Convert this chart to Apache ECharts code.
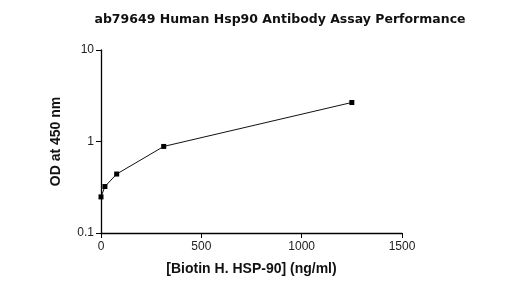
<!DOCTYPE html>
<html><head><meta charset="utf-8">
<script src="https://cdn.jsdelivr.net/npm/echarts@6/dist/echarts.min.js"></script>
<style>html,body{margin:0;padding:0;background:#fff}#c{width:522px;height:301px}</style>
</head><body><div id="c"></div>
<script>
const titleText = 'ab79649 Human Hsp90 Antibody Assay Performance';
const xTitle = '[Biotin H. HSP-90] (ng/ml)';
const yTitle = 'OD at 450 nm';
const concentrations = [0, 19.5, 78.1, 312.5, 1250];
const odValues = [0.248, 0.322, 0.441, 0.883, 2.67];

const chart = echarts.init(document.getElementById('c'), null, {renderer: 'canvas'});
chart.setOption({
  animation: false,
  backgroundColor: '#fff',
  title: {
    text: titleText, left: 275, top: 8, textAlign: 'center',
    textStyle: {fontFamily: 'DejaVu Sans', fontWeight: 'bold', fontSize: 12.5, color: '#111'}
  },
  grid: {left: 101, right: 120, top: 50, bottom: 68},
  xAxis: {
    type: 'value', min: 0, max: 1500, interval: 500,
    name: xTitle, nameLocation: 'middle', nameGap: 29,
    nameTextStyle: {fontFamily: 'Liberation Sans', fontWeight: 'bold', fontSize: 14, color: '#111'},
    axisLine: {show: true, onZero: false, lineStyle: {color: '#000', width: 1.3}},
    axisTick: {show: true, length: 5, lineStyle: {color: '#000'}},
    axisLabel: {fontFamily: 'Liberation Sans', fontSize: 12, color: '#222', margin: 8,
      formatter: v => String(v)},
    splitLine: {show: false}
  },
  yAxis: {
    type: 'log', logBase: 10, min: 0.1, max: 10,
    name: yTitle, nameLocation: 'middle', nameGap: 38, nameRotate: 90,
    nameTextStyle: {fontFamily: 'Liberation Sans', fontWeight: 'bold', fontSize: 14, color: '#111'},
    axisLine: {show: true, lineStyle: {color: '#000', width: 1.3}},
    axisTick: {show: true, length: 5, lineStyle: {color: '#000'}},
    axisLabel: {fontFamily: 'Liberation Sans', fontSize: 12, color: '#222', margin: 7,
      formatter: v => String(v)},
    minorTick: {show: false},
    splitLine: {show: false}
  },
  series: [{
    type: 'line',
    data: concentrations.map((x, i) => [x, odValues[i]]),
    symbol: 'rect', symbolSize: 5,
    lineStyle: {color: '#111', width: 1},
    itemStyle: {color: '#000'}
  }]
});
</script></body></html>
